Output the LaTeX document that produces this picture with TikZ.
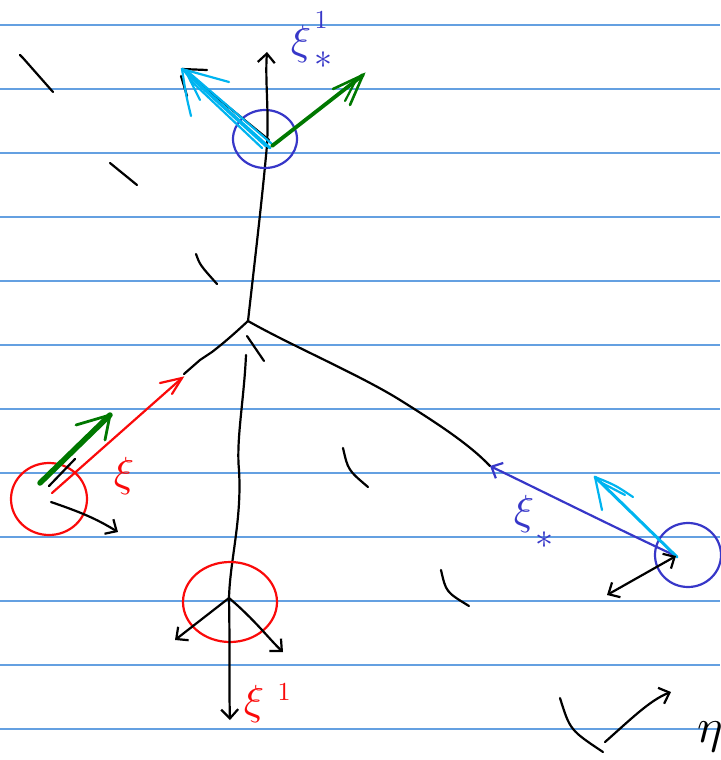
\documentclass[tikz,border=0pt]{standalone}
\usepackage{graphicx}
\usetikzlibrary{arrows.meta}
\definecolor{rule}{RGB}{100,160,225}
\definecolor{inkblue}{RGB}{55,55,200}
\definecolor{inkcyan}{RGB}{0,180,240}
\definecolor{inkgreen}{RGB}{0,120,0}
\definecolor{inkred}{RGB}{250,10,10}
\newcommand{\bigsym}[1]{\scalebox{4.2}{$#1$}}
\newcommand{\starsym}[1]{\scalebox{3.6}{$#1$}}
\newcommand{\midsym}[1]{\scalebox{2.6}{#1}}
\tikzset{
  ink/.style={line width=2.2pt, line cap=round, line join=round},
  thinrule/.style={rule, line width=1.2pt},
  barb/.style={-{Straight Barb[length=9pt,width=17pt,line width=2.2pt]}},
  lab/.style={inner sep=0pt},
}
\begin{document}
\begin{tikzpicture}[x=1pt,y=-1pt]
\useasboundingbox (0,0) rectangle (720,760);
% ruled lines
\foreach \yy in {25,89,153,217,281,345,409,473,537,601,665,729}
  \draw[thinrule] (0,\yy) -- (720,\yy);

% key points
\coordinate (J) at (248,321);
\coordinate (T) at (267,145);
\coordinate (B) at (229,598);
\coordinate (L) at (50,495);
\coordinate (R) at (676,556);
\coordinate (Rb) at (490,466);

% tick marks
\draw[ink] (20,55) -- (23,58) -- (53,92);
\draw[ink] (110,163) -- (137,185);
\draw[ink] (196,254) .. controls (200,265) .. (217,284);
\draw[ink] (343,448) .. controls (348,470) .. (368,487);
\draw[ink] (441,570) .. controls (446,592) .. (469,606);
\draw[ink] (247,336) -- (264,361);

% trunk to top node
\draw[ink] (J) .. controls (256,250) and (262,200) .. (T);
% branch left
\draw[ink] (J) .. controls (235,333) and (225,342) .. (212,352) -- (200,360) -- (184,374);
% branch right
\draw[ink] (J) .. controls (290,345) and (360,375) .. (400,400) .. controls (440,425) and (470,445) .. (Rb);
% branch down
\draw[ink] (246,355) .. controls (244,400) and (236,440) .. (239,470) .. controls (242,520) and (230,560) .. (B);

% ---------- top node ----------
\draw[inkblue, line width=2.2pt] (265,139) ellipse (32pt and 29pt);
\coordinate (Tup) at (267,52);
\draw[ink, barb] (T) .. controls (269,110) and (265,80) .. (Tup);
% black along cyan
\coordinate (Tc) at (182,69);
\draw[ink] (269,140) -- (Tc);
\draw[ink] (Tc) -- (207,70);
\draw[ink] (181,76) -- (187,96);
% cyan arrow
\draw[inkcyan, line width=2.8pt, line cap=round] (270,148) -- (Tc);
\draw[inkcyan, line width=2.8pt, line cap=round] (266,146) -- (186,73);
\draw[inkcyan, line width=2.2pt, line cap=round] (262,148) -- (190,80);
\draw[inkcyan, line width=2.2pt, line cap=round] (272,144) -- (186,70);
\draw[inkcyan, line width=2.2pt, line cap=round] (Tc) .. controls (205,76) .. (229,82);
\draw[inkcyan, line width=2.2pt, line cap=round] (Tc) .. controls (186,95) .. (191,116);
\draw[inkcyan, line width=2.2pt, line cap=round] (186,72) -- (200,100);
% green arrow
\coordinate (Tg) at (363,75);
\draw[inkgreen, line width=3.8pt, line cap=round] (272,146) -- (Tg);
\draw[inkgreen, line width=2.6pt, line cap=round] (333,89) -- (Tg) -- (350,105);
\draw[inkgreen, line width=2.2pt, line cap=round] (356,80) -- (345,101);
% label
\node[lab, text=inkblue] (lt) at (301,44) {\bigsym{\xi}};
\node[lab, text=inkblue] (lt1) at (321,20) {\midsym{1}};
\node[lab, text=inkblue] (lts) at (323,60) {\starsym{*}};

% ---------- bottom node ----------
\draw[inkred, line width=2.2pt] (230,602) ellipse (47pt and 40pt);
\coordinate (Bd) at (230,720);
\coordinate (Bl) at (175,640);
\coordinate (Br) at (283,652);
\draw[ink, barb] (B) .. controls (230,650) and (229,690) .. (Bd);
\draw[ink, barb] (B) -- (Bl);
\draw[ink, barb] (B) .. controls (255,620) and (270,640) .. (Br);
\node[lab, text=inkred] (lb) at (254,704) {\bigsym{\xi}};
\node[lab, text=inkred] (lb1) at (284,692) {\midsym{1}};

% ---------- left node ----------
\draw[inkred, line width=2.2pt] (49,499) ellipse (38pt and 36pt);
\coordinate (Lg) at (110,415);
\draw[inkgreen, line width=5.5pt, line cap=round] (40,483) -- (Lg);
\draw[inkgreen, line width=2.8pt, line cap=round] (76,425) -- (Lg) -- (105,440);
\draw[ink] (49,486) -- (75,459);
\coordinate (Lr) at (182,378);
\draw[inkred, line width=2.2pt, line cap=round] (52,493) -- (Lr);
\draw[inkred, line width=2.2pt, line cap=round] (160,383) -- (Lr) -- (172,394);
\coordinate (Lb) at (118,532);
\draw[ink, barb] (51,502) .. controls (80,512) and (95,518) .. (Lb);
\node[lab, text=inkred] (ll) at (124,476) {\bigsym{\xi}};

% ---------- right node ----------
\draw[inkblue, line width=2.2pt] (688,555) ellipse (33pt and 32pt);
\draw[inkblue, line width=2.2pt, line cap=round, barb] (R) .. controls (620,530) and (560,500) .. (Rb);
\coordinate (Rc) at (595,477);
\draw[inkcyan, line width=3pt, line cap=round] (677,557) -- (Rc);
\draw[inkcyan, line width=2.2pt, line cap=round] (Rc) -- (602,510);
\draw[inkcyan, line width=2.2pt, line cap=round] (Rc) .. controls (615,485) .. (633,497);
\draw[inkcyan, line width=2.2pt, line cap=round] (600,482) -- (625,495);
\coordinate (Rl) at (607,595);
\draw[ink, {Straight Barb[length=9pt,width=17pt,line width=2.2pt]}-{Straight Barb[length=9pt,width=17pt,line width=2.2pt]}] (Rl) -- (R);
\node[lab, text=inkblue] (lr) at (524,514) {\bigsym{\xi}};
\node[lab, text=inkblue] (lrs) at (544,540) {\starsym{*}};

% ---------- bottom right ----------
\draw[ink] (560,698) .. controls (570,730) .. (603,752);
\coordinate (Ea) at (605,742);
\coordinate (Eb) at (671,692);
\draw[ink, barb] (Ea) .. controls (630,720) and (650,700) .. (Eb);
\node[lab] (eta) at (710,737) {\scalebox{4.8}{$\eta$}};
\end{tikzpicture}
\end{document}
